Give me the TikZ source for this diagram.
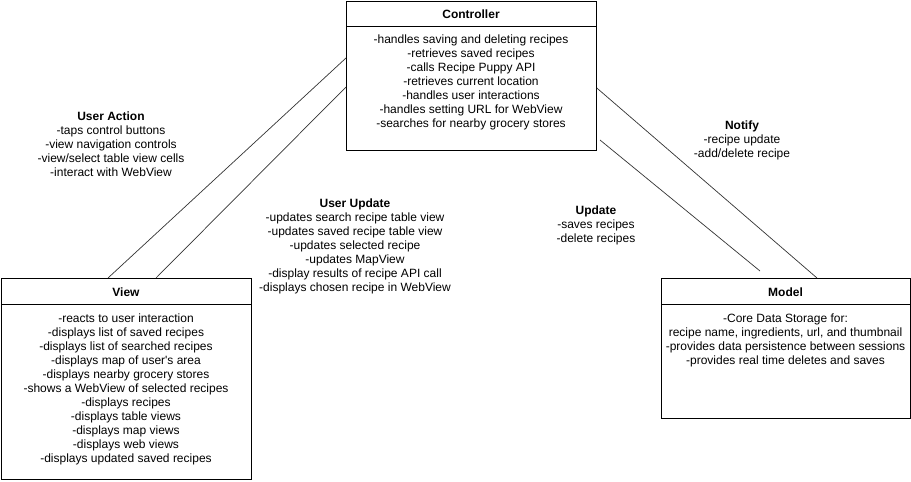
\documentclass[tikz,border=0pt]{standalone}
\usepackage{fontspec}
\setmainfont{Liberation Sans}
\begin{document}
\begin{tikzpicture}[x=1pt,y=-1pt,
  box/.style={draw, line width=0.8pt, inner sep=0, anchor=north west},
  txt/.style={align=center, inner sep=0, anchor=north, font=\fontsize{12}{14}\selectfont},
  ttl/.style={inner sep=0, font=\fontsize{12}{14}\selectfont\bfseries},
  conn/.style={line width=0.7pt, draw=black!80}]
\useasboundingbox (0,0) rectangle (911,482);
% boxes
\node[box, minimum width=250pt, minimum height=149pt] (ctrl) at (346,1) {};
\node[box, minimum width=250pt, minimum height=201pt] (view) at (1,278) {};
\node[box, minimum width=249pt, minimum height=140pt] (model) at (661,278) {};
\draw[line width=0.8pt] ([yshift=-25pt]ctrl.north west) -- ([yshift=-25pt]ctrl.north east);
\draw[line width=0.8pt] ([yshift=-26pt]view.north west) -- ([yshift=-26pt]view.north east);
\draw[line width=0.8pt] ([yshift=-26pt]model.north west) -- ([yshift=-26pt]model.north east);
% titles
\node[ttl] (ctrlT) at (471,14) {Controller};
\node[ttl] (viewT) at (126,292) {View};
\node[ttl] (modelT) at (785.5,292) {Model};
% contents
\node[txt] (ctrlX) at (471,34.5) {-handles saving and deleting recipes\\-retrieves saved recipes\\-calls Recipe Puppy API\\-retrieves current location\\-handles user interactions\\-handles setting URL for WebView\\-searches for nearby grocery stores};
\node[txt] (viewX) at (126,313.5) {-reacts to user interaction\\-displays list of saved recipes\\-displays list of searched recipes\\-displays map of user\textquotesingle s area\\-displays nearby grocery stores\\-shows a WebView of selected recipes\\-displays recipes\\-displays table views\\-displays map views\\-displays web views\\-displays updated saved recipes};
\node[txt] (modelX) at (785.5,313.5) {-Core Data Storage for:\\recipe name, ingredients, url, and thumbnail\\-provides data persistence between sessions\\-provides real time deletes and saves};
% connectors
\draw[conn] ([xshift=107pt]view.north west) -- ([yshift=-57pt]ctrl.north west);
\draw[conn] ([xshift=155pt]view.north west) -- ([yshift=-86pt]ctrl.north west);
\draw[conn] ([yshift=-87pt]ctrl.north east) -- ([xshift=156pt]model.north west);
\coordinate (u1) at (600,140);
\coordinate (u2) at (760,271);
\draw[conn] (u1) -- (u2);
% labels
\node[txt] (lUA) at (111,111.5) {\textbf{User Action}\\-taps control buttons\\-view navigation controls\\-view/select table view cells\\-interact with WebView};
\node[txt] (lUU) at (355,198.5) {\textbf{User Update}\\-updates search recipe table view\\-updates saved recipe table view\\-updates selected recipe\\-updates MapView\\-display results of recipe API call\\-displays chosen recipe in WebView};
\node[txt] (lUp) at (596,205.5) {\textbf{Update}\\-saves recipes\\-delete recipes};
\node[txt] (lNo) at (742,120.5) {\textbf{Notify}\\-recipe update\\-add/delete recipe};
\end{tikzpicture}
\end{document}
